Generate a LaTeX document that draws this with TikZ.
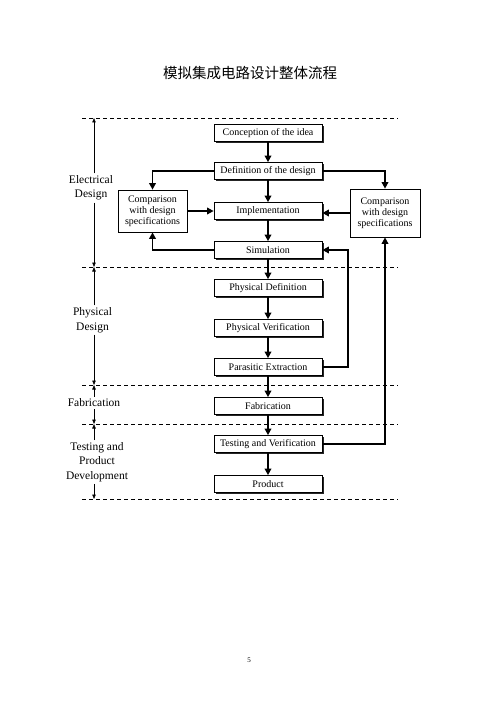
\documentclass[tikz,border=0pt]{standalone}
\usepackage{fontspec}
\setmainfont{Liberation Serif}
\newfontfamily\cjk{Noto Sans CJK SC}
\usepackage{tikz}
\usetikzlibrary{arrows.meta, positioning, calc, shadows}

\begin{document}
\begin{tikzpicture}[x=1pt, y=1pt,
    stage/.style={draw, line width=0.7pt, fill=white, minimum width=108pt, minimum height=17pt, inner sep=1pt, font=\fontsize{10}{11}\selectfont,
        drop shadow={shadow xshift=1.8pt, shadow yshift=-1.8pt, fill=black!85, opacity=1}},
    cmp/.style={draw, line width=0.7pt, fill=white, align=center, inner sep=1pt, font=\fontsize{10}{10.8}\selectfont,
        drop shadow={shadow xshift=1.2pt, shadow yshift=-1.2pt, fill=black!40, opacity=1}},
    flow/.style={line width=1.8pt, -{Triangle[length=6.5pt, width=6.5pt]}},
    span/.style={line width=0.6pt, -{Triangle[length=4.5pt, width=3.5pt]}},
    phase/.style={align=center, inner sep=2pt, font=\fontsize{11.5}{14.5}\selectfont},
    sep/.style={line width=0.7pt, dash pattern=on 4pt off 3pt}
]
    \useasboundingbox (0,0) rectangle (499,-706);

    % title and page number
    \node[font=\cjk\fontsize{14.5}{14.5}\selectfont] (title) at (250,-73) {模拟集成电路设计整体流程};
    \node[font=\fontsize{7}{7}\selectfont] (page) at (249,-660) {5};

    % phase borders
    \foreach \y/\n in {118/1, 267/2, 385/3, 424/4, 499/5} {
        \draw[sep] (82,-\y) -- (398,-\y);
        \coordinate (l\n) at (94,-\y);
    }

    % main flow
    \node[stage] (idea) at (268,-133) {Conception of the idea};
    \node[stage] (defn) at (268,-171) {Definition of the design};
    \node[stage] (impl) at (268,-211) {Implementation};
    \node[stage] (sim)  at (268,-250) {Simulation};
    \node[stage] (pdef) at (268,-288) {Physical Definition};
    \node[stage] (pver) at (268,-328) {Physical Verification};
    \node[stage] (pext) at (268,-367) {Parasitic Extraction};
    \node[stage] (fab)  at (268,-406) {Fabrication};
    \node[stage] (test) at (268,-444) {Testing and Verification};
    \node[stage] (prod) at (268,-484) {Product};

    \node[cmp, minimum width=69pt, minimum height=42pt] (cmpL) at (152.5,-211) {Comparison\\with design\\specifications};
    \node[cmp, minimum width=70pt, minimum height=48pt] (cmpR) at (385,-213) {Comparison\\with design\\specifications};

    \draw[flow] (idea) -- (defn);
    \draw[flow] (defn) -- (impl);
    \draw[flow] (impl) -- (sim);
    \draw[flow] (sim) -- (pdef);
    \draw[flow] (pdef) -- (pver);
    \draw[flow] (pver) -- (pext);
    \draw[flow] (pext) -- (fab);
    \draw[flow] (fab) -- (test);
    \draw[flow] (test) -- (prod);

    \draw[flow] (defn.west) -| (cmpL.north);
    \draw[flow] (defn.east) -| (cmpR.north);
    \draw[flow] (cmpL.east) -- (cmpL.east -| impl.west);
    \draw[flow] (cmpR.west) -- (cmpR.west -| impl.east);
    \draw[flow] (sim.west) -| (cmpL.south);
    \draw[flow] (pext.east) -- ++(26,0) |- (sim.east);
    \draw[flow] (test.east) -| (cmpR.south);

    % phase labels
    \node[phase] (lbE) at (91,-188) {Electrical\\Design};
    \node[phase] (lbP) at (92.5,-320) {Physical\\Design};
    \node[phase] (lbF) at (94,-403) {Fabrication};
    \node[phase] (lbT) at (97,-462) {Testing and\\Product\\Development};

    \draw[span] (lbE.north -| l1) -- (l1);
    \draw[span] (lbE.south -| l1) -- (l2);
    \draw[span] (lbP.north -| l2) -- (l2);
    \draw[span] (lbP.south -| l2) -- (l3);
    \draw[span] (lbF.north -| l3) -- (l3);
    \draw[span] (lbF.south -| l3) -- (l4);
    \draw[span] (lbT.north -| l4) -- (l4);
    \draw[span] (lbT.south -| l4) -- (l5);
\end{tikzpicture}
\end{document}
